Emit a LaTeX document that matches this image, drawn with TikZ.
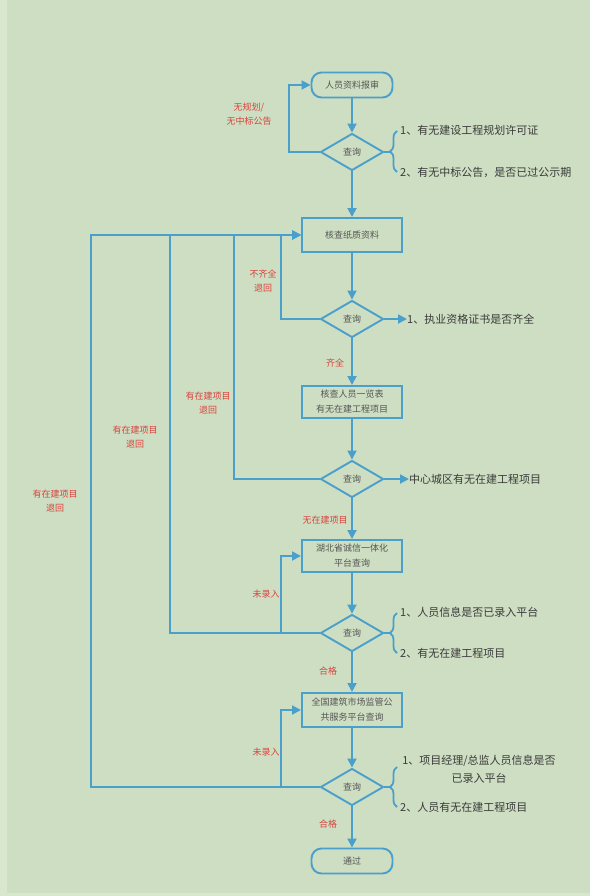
\documentclass[tikz,border=0pt]{standalone}
\usepackage{fontspec}
\setmainfont{Noto Sans CJK SC}
\usetikzlibrary{shapes.geometric,arrows.meta,decorations.pathreplacing}
\definecolor{bgA}{HTML}{CEDEC2}
\definecolor{bgB}{HTML}{D8E7CE}
\definecolor{ln}{HTML}{4A9FCB}
\definecolor{rd}{HTML}{D9423C}
\definecolor{tx}{HTML}{3A3A3A}
\definecolor{bx}{HTML}{555555}
\begin{document}
\begin{tikzpicture}[x=1pt,y=-1pt,
  conn/.style={draw=ln, line width=1.8pt},
  arr/.style={conn, -{Triangle[length=9pt,width=9pt]}},
  proc/.style={rectangle, draw=ln, line width=2pt, minimum width=100pt, minimum height=34pt, inner sep=2pt, align=center, text=bx, font=\fontsize{9}{15}\selectfont},
  term/.style={rectangle, rounded corners=10pt, draw=ln, line width=1.9pt, minimum width=81pt, minimum height=25pt, inner sep=2pt, text=bx, font=\fontsize{9}{11}\selectfont},
  dec/.style={diamond, draw=ln, line width=1.9pt, minimum width=63pt, minimum height=37pt, inner sep=0pt, text=bx, font=\fontsize{9}{11}\selectfont},
  lab/.style={text=rd, font=\fontsize{9}{14.5}\selectfont, align=center, inner sep=0pt},
  note/.style={text=tx, font=\fontsize{11}{18}\selectfont, anchor=west, inner sep=0pt},
  brc/.style={conn, decorate, decoration={brace, amplitude=7pt}}
]
\useasboundingbox (0,0) rectangle (590,896);
\fill[bgB] (0,0) rectangle (590,896);
\fill[bgA] (7,0) rectangle (590,893);

% main nodes
\node[term] (start) at (352,85) {人员资料报审};
\node[dec]  (d1) at (352,152) {查询};
\node[proc] (b1) at (352,235) {核查纸质资料};
\node[dec]  (d2) at (352,319) {查询};
\node[proc, minimum height=32pt] (b2) at (352,402) {核查人员一览表\\有无在建工程项目};
\node[dec]  (d3) at (352,479) {查询};
\node[proc, minimum height=32pt] (b3) at (352,556) {湖北省诚信一体化\\平台查询};
\node[dec]  (d4) at (352,633) {查询};
\node[proc] (b4) at (352,710) {全国建筑市场监管公\\共服务平台查询};
\node[dec]  (d5) at (352,787) {查询};
\node[term] (end) at (352,861) {通过};

% main flow
\draw[arr] (start) -- (d1);
\draw[arr] (d1) -- (b1);
\draw[arr] (b1) -- (d2);
\draw[arr] (d2) -- (b2);
\draw[arr] (b2) -- (d3);
\draw[arr] (d3) -- (b3);
\draw[arr] (b3) -- (d4);
\draw[arr] (d4) -- (b4);
\draw[arr] (b4) -- (d5);
\draw[arr] (d5) -- (end);

% loop coordinates
\coordinate (r1) at (289,85);
\coordinate (r2) at (281,235);
\coordinate (r3) at (234,235);
\coordinate (r4) at (170,235);
\coordinate (r5) at (91,235);
\coordinate (q4) at (281,556);
\coordinate (q5) at (281,710);

% loops
\draw[arr] (d1.west) -| (r1) -- (start.west);
\draw[arr] (d5.west) -| (r5) -- (b1.west);
\draw[arr] (d4.west) -| (r4) -- (b1.west);
\draw[arr] (d3.west) -| (r3) -- (b1.west);
\draw[arr] (d2.west) -| (r2) -- (b1.west);
\draw[arr] (d4.west) -| (q4) -- (b3.west);
\draw[arr] (d5.west) -| (q5) -- (b4.west);

% right notes
\node[note] (n1a) at (400,130) {1、有无建设工程规划许可证};
\node[note] (n1b) at (400,172) {2、有无中标公告，是否已过公示期};
\node[note] (n2) at (407,319) {1、执业资格证书是否齐全};
\node[note] (n3) at (409,479) {中心城区有无在建工程项目};
\node[note] (n4a) at (400,612) {1、人员信息是否已录入平台};
\node[note] (n4b) at (400,653) {2、有无在建工程项目};
\node[note, anchor=center, align=center] (n5a) at (479,769) {1、项目经理/总监人员信息是否\\已录入平台};
\node[note] (n5b) at (400,807) {2、人员有无在建工程项目};

\draw[arr] (d2.east) -- (n2.west);
\draw[arr] (d3.east) -- (n3.west);

% braces
\coordinate (t1) at (390,152);
\coordinate (t4) at (390,633);
\coordinate (t5) at (390,787);
\coordinate (e1a) at (397,131);
\coordinate (e1b) at (397,172);
\coordinate (e4a) at (397,613);
\coordinate (e4b) at (397,653);
\coordinate (e5a) at (397,767);
\coordinate (e5b) at (397,807);
\draw[conn] (d1.east) -- (t1);
\draw[brc] (e1b) -- (e1a);
\draw[conn] (d4.east) -- (t4);
\draw[brc] (e4b) -- (e4a);
\draw[conn] (d5.east) -- (t5);
\draw[brc] (e5b) -- (e5a);

% red labels
\node[lab] (L1) at (249,114) {无规划/\\无中标公告};
\node[lab] (L2) at (263,281) {不齐全\\退回};
\node[lab] (L3) at (335,363) {齐全};
\node[lab] (L4) at (208,403) {有在建项目\\退回};
\node[lab] (L5) at (135,437) {有在建项目\\退回};
\node[lab] (L6) at (55,501) {有在建项目\\退回};
\node[lab] (L7) at (325,520) {无在建项目};
\node[lab] (L8) at (266,594) {未录入};
\node[lab] (L9) at (328,671) {合格};
\node[lab] (L10) at (266,752) {未录入};
\node[lab] (L11) at (328,824) {合格};
\end{tikzpicture}
\end{document}
